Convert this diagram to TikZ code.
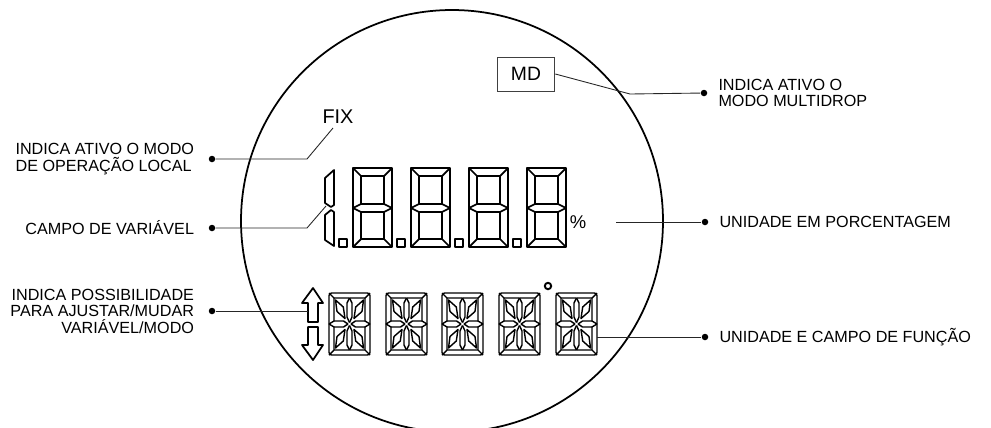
\documentclass[tikz,border=0pt]{standalone}
\usepackage{fontspec}
\setmainfont{Liberation Sans}
\usetikzlibrary{positioning}

\tikzset{
  segline/.style={line width=1pt, line join=round},
  starline/.style={line width=0.8pt, line join=round},
  segdigit/.pic={
    \draw[segline] (0,0) rectangle (39,79);
    \draw[segline] (8,8) rectangle (31,36);
    \draw[segline] (8,44) rectangle (31,71);
    \draw[segline] (0,0) -- (8,8) (39,0) -- (31,8) (0,79) -- (8,71) (39,79) -- (31,71);
    \draw[segline] (8,36) -- (0,40) -- (8,44) (31,36) -- (39,40) -- (31,44);
  },
  starchar/.pic={
    \draw[starline, rounded corners=1.5] (0,0) rectangle (41,62);
    \foreach \sx/\sy in {1/1,-1/1,1/-1,-1/-1}{
      \begin{scope}[shift={(20.5,31)}, xscale=\sx, yscale=\sy]
        \draw[starline] (-20.5,-31) -- (-15.5,-26);
        \draw[starline] (-20.5,0) -- (-15.5,-3) -- (-15.5,-26) -- (0,-26);
        \draw[starline] (-15.5,-3) -- (-6,-3) -- (-1.5,0);
        \draw[starline] (0,-26) -- (-2.5,-21) -- (-2.5,-7) -- (0,-1.5);
        \draw[starline] (-14,-24) -- (-6.2,-17) -- (-4.5,-5.5) -- (-12.5,-12.5) -- cycle;
      \end{scope}
    }
  }
}

\begin{document}
\begin{tikzpicture}[
  x=0.02cm, y=-0.02cm,
  lbl/.style={font=\fontsize{9.2}{9.4}\selectfont, inner sep=0pt},
  leaddot/.style={circle, fill=black, inner sep=0pt, minimum size=3.7pt},
  leader/.style={line width=0.5pt, black!85},
  bigtext/.style={font=\fontsize{11.3}{12}\selectfont, inner sep=0pt},
  mdbox/.style={draw=black!75, line width=0.5pt, minimum width=32.9pt, minimum height=19.3pt, inner sep=0pt, font=\fontsize{11}{12}\selectfont}
]
\useasboundingbox (0,0) rectangle (991,427);

% display outline
\draw[line width=1pt] (452,221) circle [radius=211];

% variable field
\draw[segline] (334,170) -- (325,178) -- (325,203) -- (331,207) -- (334,205) -- cycle;
\draw[segline] (331,210) -- (334,212) -- (334,246) -- (325,240) -- (325,215) -- cycle;
\foreach \x in {339,397,455,513}
  \draw[segline] (\x,239) rectangle +(8,8);
\foreach \x in {353,411,469,527}
  \pic at (\x,168) {segdigit};
\node[font=\fontsize{10.5}{11}\selectfont, inner sep=0pt] (pct) at (578,222) {\%};

% function field
\foreach \x in {329,386,442,499,556}
  \pic at (\x,293) {starchar};
\draw[line width=1.1pt] (548,286) circle [radius=3.2];
\draw[segline] (313,288) -- (323,303) -- (318,303) -- (318,322) -- (308,322) -- (308,303) -- (302,303) -- cycle;
\draw[segline] (308,327) -- (318,327) -- (318,345) -- (323,345) -- (313,360) -- (302,345) -- (308,345) -- cycle;

\node[bigtext] (fix) at (338,117) {FIX};
\node[mdbox] (md) at (526,74) {MD};

\coordinate (fixend) at (333,128);
\coordinate (oneend) at (326,206);
\coordinate (arrowend) at (308,311);
\coordinate (pctend) at (616,222);
\coordinate (funcend) at (597,337);

% dots and labels
\node[leaddot] (dA) at (212,159) {};
\node[leaddot] (dB) at (212,228) {};
\node[leaddot] (dC) at (212,311) {};
\node[leaddot] (dD) at (704,93) {};
\node[leaddot] (dE) at (705,222) {};
\node[leaddot] (dF) at (705,337) {};

\node[lbl, align=left, left=8pt of dA] (lA) {INDICA ATIVO O MODO\\DE OPERAÇÃO LOCAL};
\node[lbl, left=8pt of dB] (lB) {CAMPO DE VARIÁVEL};
\node[lbl, align=right, left=8pt of dC] (lC) {INDICA POSSIBILIDADE\\PARA AJUSTAR/MUDAR\\VARIÁVEL/MODO};
\node[lbl, align=left, right=6pt of dD] (lD) {INDICA ATIVO O\\MODO MULTIDROP};
\node[lbl, right=6pt of dE] (lE) {UNIDADE EM PORCENTAGEM};
\node[lbl, right=6pt of dF] (lF) {UNIDADE E CAMPO DE FUNÇÃO};

% leaders
\draw[leader] (dA) -- (307,159) -- (fixend);
\draw[leader] (dB) -- (307,228) -- (oneend);
\draw[leader] (dC) -- (arrowend);
\draw[leader] (md.east) -- (630,94) -- (dD);
\draw[leader] (pctend) -- (dE);
\draw[leader] (funcend) -- (dF);

\end{tikzpicture}
\end{document}
